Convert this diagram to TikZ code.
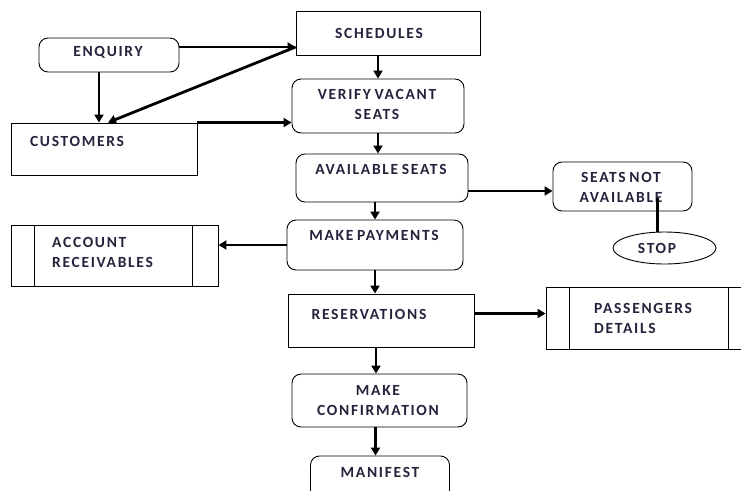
\documentclass[tikz,border=0pt]{standalone}
\usepackage{fontspec}
\newfontfamily\chartfont{Carlito}[LetterSpace=11, WordSpace=0.7]
\usetikzlibrary{arrows.meta, shapes.geometric, positioning, calc}
\definecolor{InkText}{RGB}{35,35,60}

\tikzset{
  procbox/.style={draw, rounded corners=9pt, line width=0.9pt},
  filebox/.style={draw, line width=0.9pt},
  txt/.style={font=\chartfont\bfseries\fontsize{15.5}{20}\selectfont, text=InkText, align=center, inner sep=0pt},
  flow/.style={line width=2.8pt, -{Triangle[length=8pt,width=9pt]}},
}

\begin{document}
\begin{tikzpicture}[x=1pt, y=-1pt]
\useasboundingbox (0,0) rectangle (741,490);
% boxes
\node[filebox, minimum width=184pt, minimum height=44pt] (sched) at (388,33) {};
\node[procbox, minimum width=140pt, minimum height=34pt] (enq) at (109,55) {};
\node[filebox, minimum width=186pt, minimum height=52pt] (cust) at (104,149) {};
\node[procbox, minimum width=172pt, minimum height=54pt] (verify) at (378,106) {};
\node[procbox, minimum width=172pt, minimum height=48pt] (avail) at (382,178) {};
\node[procbox, minimum width=139pt, minimum height=49pt] (notav) at (622.5,186.5) {};
\node[ellipse, draw, line width=0.9pt, minimum width=103pt, minimum height=32pt] (stop) at (664.5,248) {};
\node[procbox, minimum width=176pt, minimum height=50pt] (pay) at (375,245) {};
\node[filebox, minimum width=207pt, minimum height=61pt] (acct) at (114.5,255.5) {};
\node[filebox, minimum width=186pt, minimum height=53pt] (resv) at (381,320.5) {};
\node[filebox, minimum width=208pt, minimum height=62pt] (pass) at (650,318) {};
\node[procbox, minimum width=175pt, minimum height=53pt] (conf) at (379.5,400.5) {};
\node[procbox, minimum width=139pt, minimum height=50pt] (manif) at (380,481) {};
\foreach \b in {acct, pass}{
  \draw[line width=0.9pt] ([xshift=24pt]\b.north west) -- ([xshift=24pt]\b.south west);
  \draw[line width=0.9pt] ([xshift=-26pt]\b.north east) -- ([xshift=-26pt]\b.south east);
}
% texts
\node[txt] (tsched) at (379,33) {SCHEDULES};
\node[txt] (tenq) at (108,52) {ENQUIRY};
\node[txt] (tcust) at (77,141) {CUSTOMERS};
\node[txt] (tverify) at (377,104) {VERIFY VACANT\\SEATS};
\node[txt] (tavail) at (381,169) {AVAILABLE SEATS};
\node[txt] (tnotav) at (621,187) {SEATS NOT\\AVAILABLE};
\node[txt] (tstop) at (657,248) {STOP};
\node[txt] (tpay) at (374,235) {MAKE PAYMENTS};
\node[txt, anchor=west, align=left] (tacct) at (52,252.5) {ACCOUNT\\RECEIVABLES};
\node[txt] (tresv) at (369,314) {RESERVATIONS};
\node[txt, anchor=west, align=left] (tpass) at (594,318.5) {PASSENGERS\\DETAILS};
\node[txt] (tconf) at (378,400.5) {MAKE\\CONFIRMATION};
\node[txt] (tmanif) at (380,472) {MANIFEST};
% connectors
\coordinate (e1) at ([yshift=8pt]enq.east);
\coordinate (s1) at ([xshift=-7pt]stop.north);
\coordinate (n1) at ([yshift=-11pt]notav.center);
\coordinate (a1) at ([yshift=-13pt]avail.east);
\coordinate (r1) at ([yshift=7pt]resv.east);
\coordinate (c1) at ([xshift=-5pt]resv.south);
\coordinate (c2) at ([xshift=-4pt]conf.south);
\draw[flow] (e1) -- (e1 -| sched.west);
\draw[flow] (e1 -| sched.west) -- ([xshift=4pt]cust.north);
\draw[flow] ([xshift=-10pt]enq.south) -- ([xshift=-10pt]enq.south |- cust.north);
\draw[flow] (cust.north east) -- (cust.north east -| verify.west);
\draw[flow] (sched.south -| verify.north) -- (verify.north);
\draw[flow] (verify.south) -- (verify.south |- avail.north);
\draw[flow] (pay.north |- avail.south) -- (pay.north);
\draw[flow] (a1) -- (a1 -| notav.west);
\draw[line width=2.8pt] (s1) -- (s1 |- n1);
\draw[flow] (pay.west) -- (pay.west -| acct.east);
\draw[flow] (pay.south) -- (pay.south |- resv.north);
\draw[flow] (r1) -- (r1 -| pass.west);
\draw[flow] (c1) -- (c1 |- conf.north);
\draw[flow] (c2) -- (c2 |- manif.north);
\end{tikzpicture}
\end{document}
